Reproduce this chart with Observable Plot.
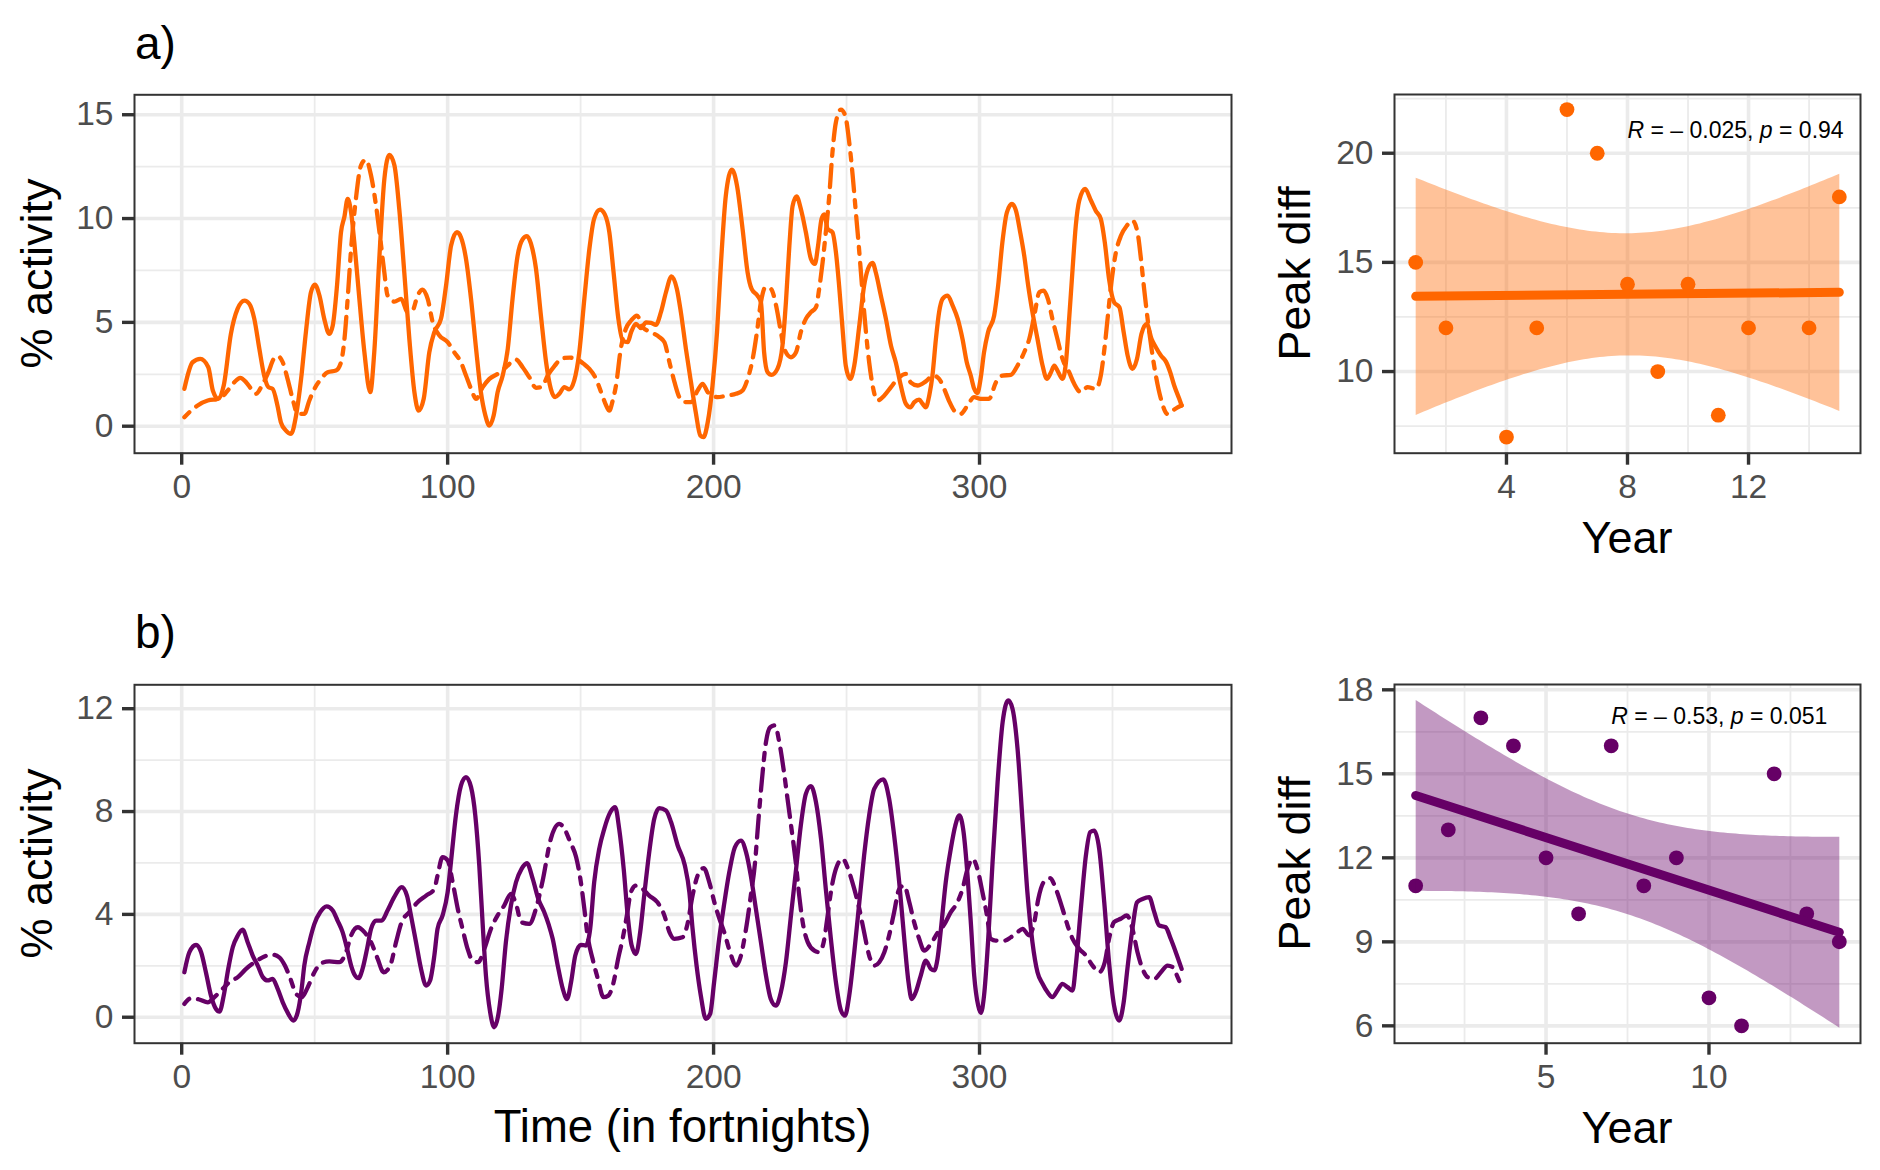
<!DOCTYPE html>
<html><head><meta charset="utf-8">
<script src="https://cdn.jsdelivr.net/npm/d3@7"></script>
<script src="https://cdn.jsdelivr.net/npm/@observablehq/plot@0.6"></script>
<style>
body{margin:0;background:#fff;font-family:"Liberation Sans",Arial,sans-serif;}
#root{position:relative;width:1880px;height:1170px;overflow:hidden;background:#fff;}
.panel{position:absolute;}
.panel svg{display:block;overflow:visible;}
g[aria-label$="-axis tick"]{stroke:#333333;stroke-width:3.4px;}
g[aria-label$="-axis tick label"]{fill:#4d4d4d;}
#overlay{position:absolute;left:0;top:0;pointer-events:none;}
</style></head><body><div id="root"></div>
<script>
// ---------- DATA ----------
// Panel a: time (fortnights), % activity
const aSolid = [[1,1.8],[4.1,3.08],[7,3.24],[10,2.84],[11.7,1.72],[13.8,1.32],[15.8,1.96],[18.5,4.45],[21,5.65],[23.6,6.05],[25.4,5.9],[27.3,5.17],[29.2,3.72],[31,2.44],[32.6,1.88],[34.2,1.8],[36,1.0],[37.3,0.19],[39.2,-0.21],[41.1,-0.37],[43,0.51],[44.9,2.28],[46.7,4.53],[48.6,6.45],[50.1,6.82],[51.8,6.29],[53.6,5.17],[55.5,4.45],[56.8,4.85],[58.4,6.77],[59.9,9.34],[61.2,10.1],[62.4,10.95],[63.7,10.3],[64.9,8.86],[66.8,6.13],[68.7,3.56],[70.9,1.64],[72.4,3.56],[74.3,8.06],[76.2,11.9],[78.1,13.07],[80,12.55],[81.8,10.47],[83.7,7.4],[85.6,4.2],[87.5,1.64],[89.1,0.75],[91,1.32],[93.1,3.56],[95,4.53],[97.5,5.17],[99.4,6.77],[101.3,8.7],[103.5,9.34],[105,9.1],[106.9,8.06],[108.8,6.13],[110.7,3.72],[112.5,1.64],[114.2,0.51],[115.7,0.03],[117.3,0.51],[118.8,1.64],[120.7,2.44],[122.6,3.72],[124.4,6.13],[126.3,8.2],[128.2,9.0],[129.8,9.15],[131.3,8.8],[133.2,7.6],[135.1,5.3],[137,3.1],[138.8,1.8],[140.4,1.4],[142,1.56],[143.9,1.88],[145.7,1.77],[147.6,2.2],[149.5,3.56],[151.4,6.13],[153.3,8.54],[155.1,10.0],[157.3,10.43],[159.1,10.2],[160.8,9.34],[162.4,7.4],[164.2,5.17],[165.8,4.13],[167.7,4.05],[169,4.53],[170.8,4.93],[172.7,4.72],[174.6,5.0],[176.5,4.98],[178.3,4.88],[180.2,5.49],[182.1,6.45],[184.2,7.22],[186.2,6.61],[187.7,5.49],[189.6,3.72],[191.5,2.12],[193.3,0.67],[195,-0.45],[196.2,-0.53],[197.8,0.19],[199.6,1.96],[201.3,4.53],[202.8,7.9],[204.6,11.1],[206.9,12.36],[208.8,11.59],[210.9,9.5],[212.8,7.4],[214.3,6.61],[216.5,6.29],[217.8,5.97],[219,3.56],[220.3,2.6],[221.8,2.47],[224,2.76],[225.9,3.88],[227.2,5.97],[228.5,8.7],[229.7,10.6],[231.2,11.07],[232.8,10.47],[234.7,9.34],[236.6,8.06],[238.1,7.82],[239.3,8.7],[240.6,9.98],[241.6,10.2],[242.9,9.5],[244.7,9.34],[246,8.38],[247.2,6.77],[248.5,4.69],[249.7,2.92],[251.4,2.28],[252.9,2.92],[254.8,4.85],[256.6,6.77],[258.1,7.58],[259.8,7.87],[261,7.4],[262.9,6.29],[264.8,5.17],[266.7,3.88],[268.5,3.08],[270.4,1.96],[272.3,1.08],[274,0.91],[275.5,1.16],[277.3,1.28],[278.6,1.08],[279.8,0.91],[281.1,1.48],[282.3,2.44],[283.6,4.2],[284.8,5.49],[286.1,6.13],[288,6.29],[289.9,5.81],[291.8,5.17],[293.6,4.2],[295.2,3.08],[296.7,2.44],[298,1.8],[299.2,1.6],[300.4,2.28],[301.7,3.56],[303.2,4.53],[305.5,5.33],[307,6.77],[308.6,8.86],[310.3,10.3],[312.2,10.7],[313.7,10.38],[315.3,9.34],[316.8,8.22],[318.3,6.77],[319.9,5.49],[321.8,4.2],[323.7,2.92],[325.3,2.28],[326.8,2.57],[328.1,2.92],[329.6,2.6],[331.2,2.28],[332.5,3.08],[333.7,5.17],[335,7.58],[336.2,9.66],[337.5,10.87],[339.7,11.43],[341.9,10.87],[343.7,10.38],[345.6,9.98],[347.1,8.86],[348.7,7.09],[350.6,5.97],[352.6,5.73],[354.2,4.53],[355.7,3.4],[357.5,2.76],[359.2,3.24],[360.9,4.45],[362.9,4.93],[364.7,4.2],[366.3,3.8],[368.2,3.4],[370.1,3.11],[371.7,2.6],[373.2,1.96],[375.1,1.32],[376,1.0]];
const aDashed = [[1,0.43],[3.5,0.75],[6,1.0],[9.8,1.24],[14.2,1.32],[17.3,1.72],[19.8,2.12],[22,2.33],[24.2,2.12],[26.1,1.8],[27.9,1.56],[30.5,2.04],[32.6,2.6],[34.6,3.24],[36.1,3.37],[38,3.08],[39.8,2.28],[41.7,1.32],[43.6,0.59],[46.1,0.59],[48,1.24],[49.9,1.8],[52.4,2.28],[54.9,2.6],[58,2.68],[59.9,3.08],[61.2,4.2],[62.4,6.13],[63.7,8.54],[65.5,10.95],[67.4,12.55],[69.3,12.84],[71.2,12.07],[73.1,10.6],[74.7,9.0],[76.2,7.4],[77.4,6.3],[80,6.0],[82.5,6.13],[85,5.49],[86.8,5.57],[88.7,6.29],[90.6,6.58],[92.5,6.13],[94.4,5.0],[96.9,4.37],[100,4.05],[102.5,3.56],[105,3.08],[106.9,2.44],[108.8,1.8],[110.7,1.32],[113.2,1.88],[115.7,2.28],[118.8,2.52],[121.9,2.84],[125.7,3.21],[128.2,2.84],[130.7,2.36],[133.2,1.85],[135.5,1.9],[137.6,2.44],[140.2,2.9],[143,3.27],[146,3.3],[149,3.2],[151.2,3.0],[153.3,2.76],[155.8,2.28],[157.7,1.64],[159.6,1.0],[160.8,0.75],[162,1.2],[163.3,1.96],[165.1,3.72],[167,4.69],[169,5.09],[171.2,5.33],[173.3,4.77],[176.5,4.53],[179.6,4.29],[181.5,4.05],[183.4,3.08],[185.3,2.12],[187.1,1.4],[189,1.16],[191.5,1.16],[194,1.72],[195.9,2.04],[197.8,1.64],[201.5,1.4],[205.2,1.48],[208.4,1.56],[210.9,1.72],[212.8,2.28],[214.7,3.24],[216.3,4.53],[217.8,5.97],[219.5,6.69],[221.6,6.61],[223.5,5.81],[225.1,4.69],[226.6,3.72],[229.1,3.32],[231,3.56],[232.8,4.53],[234.7,5.17],[236.6,5.49],[238.5,5.73],[239.7,6.61],[241,7.9],[242.2,9.34],[243.5,11.1],[244.7,13.19],[246,14.64],[247.9,15.25],[249.5,14.96],[251,13.68],[252.3,12.07],[253.5,10.3],[254.8,8.38],[256,6.45],[257.3,4.53],[258.5,3.08],[259.8,1.96],[261.6,1.24],[264.2,1.48],[266.7,1.88],[269.2,2.28],[272.3,2.52],[274.2,2.1],[276.7,1.96],[279.8,2.16],[282.6,2.44],[284.8,2.28],[286.7,1.8],[288.6,1.2],[290.5,0.75],[292.9,0.59],[295.5,1.0],[298,1.4],[300.4,1.32],[303.6,1.32],[306.2,2.12],[308.6,2.44],[311.8,2.47],[314.3,2.92],[316.8,3.56],[318.7,4.2],[320.6,5.33],[322.5,6.45],[324.1,6.53],[325.7,6.13],[327.4,5.17],[329.3,4.2],[331.2,3.24],[333.7,2.6],[335.6,2.04],[338.1,1.64],[340.6,1.88],[343.7,1.8],[345.6,2.44],[347.1,3.88],[348.4,5.49],[349.6,6.93],[351.3,8.38],[353.2,9.18],[355.4,9.66],[357.5,9.9],[359.4,9.34],[360.7,8.06],[361.9,6.61],[363.2,5.17],[364.7,3.72],[366.3,2.44],[368.2,1.32],[370.7,0.59],[372.6,0.75],[374.5,0.91],[376,1.0]];
// Panel b: time (fortnights), % activity
const bSolid = [[1,1.75],[2.9,2.53],[5.4,2.81],[7.3,2.53],[9.1,1.75],[11,0.84],[12.9,0.32],[14.2,0.22],[15.8,0.84],[17.5,1.88],[19.2,2.72],[21.1,3.18],[22.9,3.41],[24.8,2.92],[26.7,2.4],[28.6,2.01],[30.5,1.56],[32.3,1.43],[34.2,1.49],[36.1,1.1],[38,0.58],[39.8,0.19],[42,-0.13],[43.6,0.19],[45.1,1.1],[46.1,2.01],[48,2.92],[49.9,3.63],[52.1,4.09],[54.5,4.31],[56.8,4.15],[58.6,3.76],[60.5,3.31],[62.2,2.66],[63.7,2.01],[65.2,1.62],[66.5,1.52],[68,1.88],[69.7,2.66],[71.2,3.44],[73.1,3.76],[75.2,3.76],[77.4,4.15],[79.9,4.67],[82.7,5.06],[84.7,4.73],[86.2,3.96],[88.1,2.92],[90,1.88],[91.9,1.23],[93.4,1.43],[95,2.4],[96.2,3.44],[98.1,3.96],[100,4.86],[101.5,6.29],[103.1,7.85],[105,9.01],[106.9,9.34],[108.8,8.95],[110.4,7.85],[111.9,5.9],[113.2,3.57],[114.4,1.62],[116,0.19],[117.5,-0.39],[119,0.06],[120.3,1.1],[121.9,2.92],[123.8,4.35],[125.7,5.25],[127.8,5.77],[129.8,5.99],[132,5.38],[134.1,4.6],[136.3,4.09],[138,3.6],[139.5,3.05],[141.4,2.01],[143.3,1.1],[144.9,0.71],[146.4,1.36],[148,2.4],[150.1,2.81],[152,2.79],[153.6,3.44],[155.1,5.25],[157,6.55],[158.9,7.33],[161.2,7.98],[163,8.17],[164.5,7.33],[166.2,5.77],[167.7,3.96],[169.2,2.79],[170.8,2.46],[172.4,3.31],[173.9,4.73],[175.8,6.42],[177.7,7.72],[179.6,8.13],[182.1,8.04],[184,7.59],[186.5,6.68],[189.2,5.9],[190.9,4.86],[192.1,3.44],[193.6,2.01],[195.2,0.84],[197.1,-0.06],[198.7,0.13],[200.2,1.36],[202.1,3.05],[203.9,4.35],[205.9,5.64],[208,6.61],[210.3,6.87],[212.2,6.42],[214,5.51],[215.9,4.22],[217.8,2.92],[219.7,1.62],[221.5,0.71],[223.4,0.45],[225.3,0.97],[227.2,2.14],[229.1,3.96],[230.9,5.64],[232.8,7.46],[234.7,8.69],[236.6,8.99],[238.5,8.37],[240.4,6.94],[242.2,4.99],[244.1,3.05],[246,1.36],[247.9,0.26],[249.4,0.06],[251,0.84],[252.9,2.53],[254.8,4.47],[256.6,6.29],[258.5,7.85],[260.4,8.88],[263.8,9.25],[266,8.5],[267.9,7.07],[269.8,5.25],[271.7,3.05],[273.3,1.36],[274.5,0.71],[276,0.97],[277.9,1.62],[279.8,2.2],[281.7,1.88],[283,1.82],[284.2,2.27],[285.5,3.44],[287.3,5.25],[289.2,6.55],[290.9,7.46],[292.4,7.85],[294,7.2],[295.5,5.51],[296.8,3.57],[298,1.62],[299.5,0.45],[300.5,0.17],[301.7,0.84],[303.2,2.92],[304.9,6.03],[306.8,9.14],[308.7,11.48],[310.8,12.32],[312.4,12.0],[314.3,10.44],[316.2,7.59],[318,4.86],[319.9,2.92],[321.8,1.75],[323.7,1.3],[325.6,0.97],[327.4,0.78],[329.3,1.04],[331.2,1.3],[333.1,1.17],[335,1.04],[336.2,2.01],[338.1,4.22],[340,6.29],[341.6,7.2],[343.1,7.26],[345,6.55],[346.9,4.47],[348.7,2.14],[350.6,0.45],[352.5,-0.13],[354.2,0.58],[355.6,1.88],[357.5,3.44],[359.2,4.47],[361.3,4.6],[363.8,4.67],[365.7,4.09],[367.5,3.57],[370,3.5],[371.9,3.05],[373.8,2.53],[376,1.88]];
const bDashed = [[1,0.52],[3.5,0.74],[6.6,0.69],[9.8,0.58],[12.3,0.78],[14.8,1.04],[17.9,1.36],[21.1,1.56],[24.2,1.88],[27.9,2.17],[31.1,2.36],[34.2,2.43],[36.7,2.33],[38.8,2.01],[40.9,1.49],[43,0.91],[45.1,0.78],[47.4,1.17],[49.9,1.75],[52.6,2.11],[55.5,2.17],[59.3,2.14],[61.8,2.53],[63.7,3.18],[66.2,3.5],[68.7,3.31],[71.2,2.92],[73.7,2.27],[75.9,1.75],[78.4,2.01],[80.6,2.92],[82.7,3.7],[85.6,4.09],[88.7,4.47],[91.9,4.73],[95,4.99],[96.2,5.51],[98.1,6.23],[100,6.1],[101.9,5.25],[103.8,4.22],[105.6,3.44],[107.5,2.66],[109.4,2.2],[111.5,2.14],[113.8,2.66],[116.3,3.44],[118.8,3.96],[121.3,4.35],[123.8,4.8],[126,4.3],[127.6,3.7],[130.7,3.63],[133.2,4.22],[135.7,5.3],[138.8,6.94],[142,7.52],[143.9,7.33],[146.1,6.81],[148.3,6.23],[150.1,5.25],[151.4,4.22],[152.6,3.18],[154.5,2.27],[156.5,1.49],[158.6,0.78],[160.4,0.84],[162.4,1.36],[164.1,2.27],[165.8,3.05],[167.4,3.96],[168.9,4.86],[170.8,5.12],[173.3,4.99],[175.8,4.73],[178.9,4.47],[181.5,3.96],[183.4,3.31],[185.2,3.05],[188.3,3.11],[190.2,3.63],[192.1,4.73],[194,5.51],[196.3,5.8],[198.4,5.25],[200.3,4.47],[202.2,3.83],[204,3.31],[206.2,2.53],[208.5,2.01],[210.1,2.33],[212.2,3.44],[214,4.73],[215.6,6.03],[216.8,7.59],[218.1,9.14],[219.7,10.7],[221.3,11.28],[223.1,11.35],[224.7,10.7],[226.3,9.66],[227.8,8.5],[229.3,7.33],[230.9,6.03],[232.2,4.73],[233.5,3.7],[235.4,2.92],[237.9,2.59],[239.7,2.53],[241.4,2.92],[242.9,3.96],[244.1,4.86],[246,5.77],[248.5,6.16],[251,5.64],[252.9,4.99],[254.8,4.22],[256.6,3.31],[258.5,2.4],[260.4,2.01],[262.3,2.14],[264.2,2.53],[266,3.18],[267.9,4.09],[269.8,4.99],[271.7,5.12],[273.6,4.47],[275.4,3.7],[277.3,3.05],[279.2,2.59],[281.7,2.85],[284.2,3.28],[286.7,3.6],[289.2,4.09],[291.7,4.47],[293.6,4.99],[295.5,5.77],[297.4,6.16],[299.2,5.77],[301.1,4.86],[302.8,3.96],[304.2,3.05],[306.1,2.98],[309.3,2.98],[311.8,3.11],[314.3,3.31],[316.2,3.44],[318.7,3.18],[320.6,3.7],[322.1,4.6],[324.1,5.25],[326.6,5.41],[328.7,4.99],[331.2,4.22],[333.1,3.57],[335,3.05],[337.5,2.66],[340,2.4],[342.5,2.01],[345,1.75],[347.1,2.14],[348.7,3.05],[350.6,3.7],[353.1,3.83],[355.4,3.96],[357.5,3.44],[359.4,2.53],[361.3,1.88],[363.2,1.56],[365.7,1.49],[368.2,1.75],[370.7,2.01],[372.6,1.95],[374.5,1.56],[376,1.17]];

// Scatter panels: Year vs Peak diff
const yearA = [1,2,4,5,6,7,8,9,10,11,12,14,15];
const peakA = [15,12,7,12,22,20,14,10,14,8,12,12,18];
const yearB = [1,2,3,4,5,6,7,8,9,10,11,12,13,14];
const peakB = [11,13,17,16,12,10,16,11,12,7,6,15,10,9];
const statA = ["R", " = \u2013 0.025, ", "p", " = 0.94"];
const statB = ["R", " = \u2013 0.53, ", "p", " = 0.051"];

// Tick labels / grid positions
const timeTicks = [0,100,200,300];
const timeMinor = [50,150,250,350];
const actTicksA = [0,5,10,15];
const actMinorA = [2.5,7.5,12.5];
const actTicksB = [0,4,8,12];
const actMinorB = [2,6,10];
const yearTicksA = [4,8,12];
const yearMinorA = [2,6,10,14];
const peakTicksA = [10,15,20];
const peakMinorA = [7.5,12.5,17.5,22.5];
const yearTicksB = [5,10];
const yearMinorB = [2.5,7.5,12.5];
const peakTicksB = [6,9,12,15,18];
const peakMinorB = [7.5,10.5,13.5,16.5];

const ORANGE = "#FF6600", PURPLE = "#660066";
const FONT = '"Liberation Sans", Arial, sans-serif';
const GRID = "#ebebeb";

function place(svg, left, top) {
  const d = document.createElement("div");
  d.className = "panel";
  d.style.left = left + "px";
  d.style.top = top + "px";
  d.appendChild(svg);
  document.getElementById("root").appendChild(d);
  return svg;
}

function axes(xt, yt) {
  return [
    Plot.axisX({ticks: xt, tickSize: 12, tickPadding: 9, fontSize: 33.5, label: null, tickFormat: d => String(d)}),
    Plot.axisY({ticks: yt, tickSize: 12, tickPadding: 9, fontSize: 33.5, label: null, tickFormat: d => String(d)})
  ];
}

function timePanel(solid, dashed, color, yDomain, yTicks, yMinor, height, mBottom) {
  const s = solid.map(([t, v]) => ({t, v}));
  const d = dashed.map(([t, v]) => ({t, v}));
  return Plot.plot({
    width: 1300, height,
    marginLeft: 134, marginRight: 69, marginTop: 94.3, marginBottom: mBottom,
    style: {fontFamily: FONT, background: "transparent", overflow: "visible"},
    x: {domain: [-17.75, 394.75]},
    y: {domain: yDomain},
    marks: [
      Plot.ruleX(timeMinor, {stroke: GRID, strokeWidth: 1.8}),
      Plot.ruleY(yMinor, {stroke: GRID, strokeWidth: 1.8}),
      Plot.ruleX(timeTicks, {stroke: GRID, strokeWidth: 3.6}),
      Plot.ruleY(yTicks, {stroke: GRID, strokeWidth: 3.6}),
      Plot.line(d, {x: "t", y: "v", stroke: color, strokeWidth: 4.3, strokeDasharray: "7,9,22,9", curve: "monotone-x"}),
      Plot.line(s, {x: "t", y: "v", stroke: color, strokeWidth: 4.3, curve: "monotone-x"}),
      Plot.frame({stroke: "#333333", strokeWidth: 2}),
      ...axes(timeTicks, yTicks)
    ]
  });
}

function scatterPanel(years, peaks, color, xDomain, yDomain, xTicks, xMinor, yTicks, yMinor, stat, statX, statY, height, mBottom) {
  const pts = years.map((x, i) => ({year: x, peak: peaks[i]}));
  const svg = Plot.plot({
    width: 580, height,
    marginLeft: 94, marginRight: 20, marginTop: 94, marginBottom: mBottom,
    style: {fontFamily: FONT, background: "transparent", overflow: "visible"},
    x: {domain: xDomain},
    y: {domain: yDomain},
    marks: [
      Plot.ruleX(xMinor, {stroke: GRID, strokeWidth: 1.8}),
      Plot.ruleY(yMinor, {stroke: GRID, strokeWidth: 1.8}),
      Plot.ruleX(xTicks, {stroke: GRID, strokeWidth: 3.6}),
      Plot.ruleY(yTicks, {stroke: GRID, strokeWidth: 3.6}),
      Plot.dot(pts, {x: "year", y: "peak", r: 7.4, fill: color, stroke: "none"}),
      Plot.linearRegressionY(pts, {x: "year", y: "peak", stroke: color, fill: color, fillOpacity: 0.4, strokeWidth: 9, ci: 0.95}),
      Plot.text([stat.join("")], {x: statX, y: statY, text: d => d, textAnchor: "start", fontSize: 23, fill: "black"}),
      Plot.frame({stroke: "#333333", strokeWidth: 2}),
      ...axes(xTicks, yTicks)
    ]
  });
  // italic R and p
  const t = d3.select(svg).select('g[aria-label="text"] text');
  t.text(null);
  stat.forEach((part, i) => {
    t.append("tspan").attr("font-style", i % 2 === 0 ? "italic" : "normal").text(part);
  });
  return svg;
}

place(timePanel(aSolid, aDashed, ORANGE, [-1.3, 15.96], actTicksA, actMinorA, 560, 107.3), 0, 0);
place(scatterPanel(yearA, peakA, ORANGE, [0.3, 15.7], [6.26, 22.69], yearTicksA, yearMinorA, peakTicksA, peakMinorA, statA, 8.0, 21.04, 560, 107.3), 1300, 0);
place(timePanel(bSolid, bDashed, PURPLE, [-1.01, 12.93], actTicksB, actMinorB, 580, 127.3), 0, 590);
place(scatterPanel(yearB, peakB, PURPLE, [0.35, 14.65], [5.38, 18.19], yearTicksB, yearMinorB, peakTicksB, peakMinorB, statB, 7.0, 17.05, 580, 127.3), 1300, 590);

// ---------- titles / axis titles ----------
const titles = [
  {text: "a)", x: 135, y: 59, size: 46, anchor: "start", rot: 0},
  {text: "b)", x: 135, y: 648, size: 46, anchor: "start", rot: 0},
  {text: "% activity", x: 52, y: 273.5, size: 45, anchor: "middle", rot: -90},
  {text: "% activity", x: 52, y: 863.5, size: 45, anchor: "middle", rot: -90},
  {text: "Time (in fortnights)", x: 682.5, y: 1142, size: 45.5, anchor: "middle", rot: 0},
  {text: "Peak diff", x: 1310, y: 273.5, size: 45, anchor: "middle", rot: -90},
  {text: "Peak diff", x: 1310, y: 863.5, size: 45, anchor: "middle", rot: -90},
  {text: "Year", x: 1627, y: 553, size: 45, anchor: "middle", rot: 0},
  {text: "Year", x: 1627, y: 1143, size: 45, anchor: "middle", rot: 0}
];
const ov = d3.select("#root").append("svg").attr("id", "overlay").attr("width", 1880).attr("height", 1170);
ov.selectAll("text").data(titles).join("text")
  .attr("transform", d => `translate(${d.x},${d.y}) rotate(${d.rot})`)
  .attr("text-anchor", d => d.anchor)
  .attr("font-family", FONT)
  .attr("font-size", d => d.size)
  .attr("fill", "#000")
  .text(d => d.text);
</script></body></html>
